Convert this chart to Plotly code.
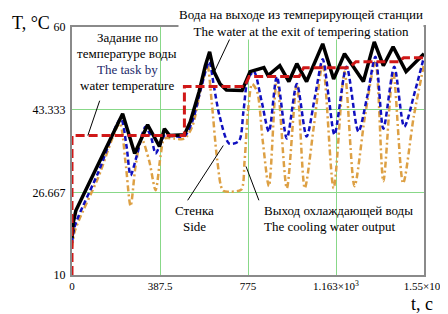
import plotly.graph_objects as go

# ---------------- data ----------------
black_t = [0, 5, 17, 114, 223, 276, 333, 385, 407, 430, 495, 521, 560, 587, 606, 625, 652, 680, 749, 770, 784,
           845, 863, 915, 955, 990, 1033, 1104, 1152, 1200, 1283, 1331, 1371, 1414, 1471, 1550]
black_T = [17.5, 20.5, 23, 32.1, 42.5, 34.5, 40.3, 35.9, 39.5, 38.1, 38.3, 40.9, 47, 52.2, 55, 51, 48.5, 47.3, 47.2, 49.5, 51,
           51.8, 50.2, 52.2, 49, 52.6, 49, 56.6, 49.5, 54.6, 49, 57, 52.2, 56, 51, 54.6]

blue_t = [0, 10, 30, 114, 215, 240, 258, 285, 324, 350, 368, 390, 407, 450, 495, 530, 570, 604, 625, 650, 692, 735,
          755, 775, 801, 835, 867, 902, 946, 990, 1033, 1070, 1104, 1130, 1156, 1209, 1261, 1300, 1336, 1371, 1419,
          1463, 1510, 1550]
blue_T = [16.5, 19.5, 22, 30.5, 41.5, 36, 30.1, 34, 39.9, 37.5, 34.5, 36.5, 38.1, 38, 38, 41, 48, 53, 48, 42, 36.5, 37,
          43, 49.6, 51, 45, 38.9, 50, 37.5, 48.5, 37.9, 46, 53.5, 46, 38.3, 52, 38.9, 46, 54, 39.5, 52,
          39.9, 47, 54]

orange_t = [0, 10, 30, 114, 210, 235, 258, 280, 306, 340, 368, 390, 407, 450, 495, 530, 565, 596, 615, 640, 665, 700,
            745, 760, 775, 793, 815, 840, 867, 902, 946, 990, 1025, 1065, 1104, 1152, 1200, 1244, 1290, 1336, 1371,
            1414, 1458, 1505, 1550]
orange_T = [15.5, 18.5, 21, 29.5, 40.5, 33, 23.9, 32, 37.5, 33, 27.1, 34, 37.5, 37.5, 37.5, 40, 47, 52.2, 45, 33, 27, 26.8,
            27.2, 33, 43, 48.5, 47, 37, 27.9, 49.5, 27.5, 48.5, 27.5, 40, 52.5, 27.5, 51, 27.9, 42, 53, 28.9,
            51, 28.5, 42, 52.5]

red_t = [0, 0, 495, 495, 760, 780, 1000, 1020, 1220, 1250, 1440, 1460, 1550]
red_T = [10, 38.1, 38.1, 48, 48, 50, 50, 51.8, 51.8, 53, 53, 53.8, 53.8]

y_ticks = [10, 26.667, 43.333, 60]
y_ticktext = ["10", "26.667", "43.333", "60"]
x_ticks = [0, 387.5, 775, 1162.5, 1550]
x_ticktext = ["0", "387.5", "775", "1.163×10<sup>3</sup>", "1.55×10<sup>3</sup>"]

# ---------------- layout helpers ----------------
W, H = 448, 314
L, R, T, B = 64, 28, 18, 47
PW, PH = W - L - R, H - T - B


def px(x):
    return (x - L) / PW


def py(y):
    return (H - B - y) / PH


FONT = "Liberation Serif"

fig = go.Figure()
fig.add_trace(go.Scatter(x=orange_t, y=orange_T, mode="lines",
                         line=dict(color="#DDA044", width=2.5, dash="6px,3px,2px,3px", shape="spline", smoothing=0.8)))
fig.add_trace(go.Scatter(x=blue_t, y=blue_T, mode="lines",
                         line=dict(color="#1010C0", width=2.5, dash="5px,3px", shape="spline", smoothing=0.8)))
fig.add_trace(go.Scatter(x=black_t, y=black_T, mode="lines", line=dict(color="black", width=3.5)))
fig.add_trace(go.Scatter(x=red_t, y=red_T, mode="lines", line=dict(color="#D01818", width=3, dash="9px,4px")))

axis_common = dict(showline=True, mirror=True, linecolor="#8a8a8a", linewidth=2,
                   gridcolor="#88D888", gridwidth=1, zeroline=False, ticks="")
fig.update_xaxes(range=[0, 1550], tickvals=x_ticks, ticktext=x_ticktext, ticklabelstandoff=0,
                 tickfont=dict(family=FONT, size=11, color="black"), **axis_common)
fig.update_yaxes(range=[10, 60], tickvals=y_ticks, ticktext=y_ticktext, ticklabelstandoff=2,
                 tickfont=dict(family=FONT, size=12, color="black"), **axis_common)

ann = []


def text(x, y, s, size=13, color="black", bg=None):
    d = dict(x=px(x), y=py(y), xref="paper", yref="paper", text=s, showarrow=False,
             font=dict(family=FONT, size=size, color=color), xanchor="center", yanchor="middle",
             borderpad=0)
    if bg:
        d["bgcolor"] = bg
    ann.append(d)


text(23, 14, "T, °C", size=18)
text(418, 296, "t, c", size=18)
text(120, 29, "Задание по")
text(120, 45, "температуре воды")
text(120, 61, "The task by", color="#1c2a6a")
text(120, 77, "water temperature")
text(296, 14, "Вода на выходе из темперирующей станции<br>The water at the exit of tempering station", bg="white")
text(188, 202, "Стенка")
text(188, 218, "Side")
text(334, 202, "Выход охлаждающей воды")
text(324, 218, "The cooling water output")

shapes = []


def seg(x0, y0, x1, y1):
    shapes.append(dict(type="line", xref="paper", yref="paper", x0=px(x0), y0=py(y0), x1=px(x1), y1=py(y1),
                       line=dict(color="black", width=1)))


seg(80, 127, 92, 92)
seg(225, 27, 207, 65)
seg(181, 192, 217, 137)
seg(240, 158, 253, 192)

fig.update_layout(width=W, height=H, margin=dict(l=L, r=R, t=T, b=B), showlegend=False,
                  font=dict(family=FONT),
                  plot_bgcolor="white", paper_bgcolor="white", annotations=ann, shapes=shapes)

fig.write_html("out.html")
